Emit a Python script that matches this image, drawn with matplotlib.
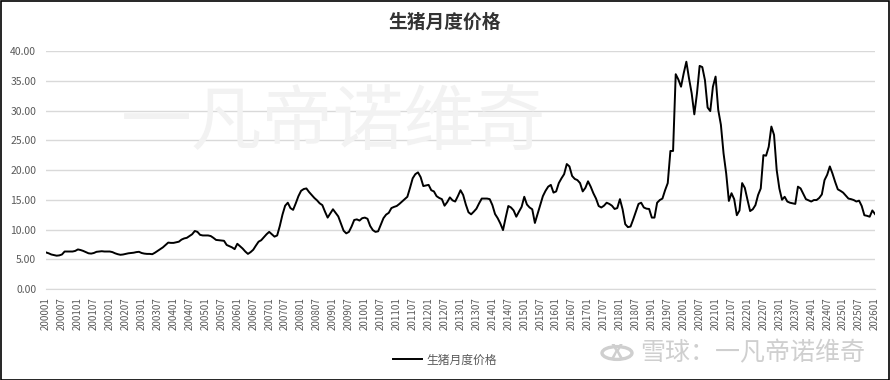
import matplotlib
matplotlib.use('Agg')
import matplotlib.pyplot as plt
from matplotlib.patches import Rectangle, Circle

plt.rcParams['font.family'] = ['Noto Sans CJK SC', 'DejaVu Sans']

# monthly pig price, 200001 .. 202601
price_2000 = [6.15, 6.0, 5.8, 5.7, 5.6, 5.65, 5.8, 6.3, 6.3, 6.3, 6.3, 6.4]
price_2001 = [6.65, 6.55, 6.4, 6.2, 6.0, 5.95, 6.05, 6.25, 6.3, 6.35, 6.3, 6.3]
price_2002 = [6.3, 6.2, 6.0, 5.85, 5.75, 5.8, 5.9, 6.0, 6.05, 6.1, 6.2, 6.25]
price_2003 = [6.05, 5.95, 5.9, 5.9, 5.85, 6.1, 6.4, 6.7, 7.0, 7.4, 7.8, 7.75]
price_2004 = [7.75, 7.85, 7.95, 8.3, 8.5, 8.6, 8.9, 9.2, 9.75, 9.6, 9.1, 9.0]
price_2005 = [9.0, 9.0, 8.9, 8.6, 8.25, 8.2, 8.15, 8.1, 7.4, 7.2, 7.0, 6.7]
price_2006 = [7.6, 7.2, 6.8, 6.3, 5.9, 6.2, 6.6, 7.3, 7.95, 8.2, 8.7, 9.2]
price_2007 = [9.6, 9.2, 8.8, 9.0, 10.6, 12.5, 14.0, 14.5, 13.6, 13.3, 14.4, 15.6]
price_2008 = [16.5, 16.8, 16.9, 16.3, 15.8, 15.3, 14.9, 14.4, 14.1, 13.0, 12.0, 12.7]
price_2009 = [13.4, 12.8, 12.2, 11.0, 9.8, 9.35, 9.6, 10.5, 11.6, 11.7, 11.5, 11.9]
price_2010 = [12.0, 11.8, 10.6, 9.9, 9.6, 9.7, 10.8, 11.9, 12.5, 12.8, 13.6, 13.8]
price_2011 = [13.95, 14.3, 14.7, 15.1, 15.5, 17.0, 18.6, 19.3, 19.6, 18.8, 17.3, 17.4]
price_2012 = [17.5, 16.6, 16.4, 15.6, 15.3, 15.1, 14.0, 14.6, 15.4, 14.9, 14.7, 15.6]
price_2013 = [16.6, 15.8, 14.2, 12.9, 12.55, 13.0, 13.5, 14.4, 15.2, 15.2, 15.2, 15.1]
price_2014 = [14.1, 12.6, 11.9, 11.0, 9.9, 12.0, 13.95, 13.7, 13.2, 12.15, 13.0, 13.8]
price_2015 = [15.5, 14.2, 13.7, 13.4, 11.1, 12.6, 14.1, 15.6, 16.5, 17.2, 17.5, 16.2]
price_2016 = [16.4, 17.8, 18.6, 19.3, 21.0, 20.6, 19.0, 18.5, 18.3, 17.8, 16.4, 17.0]
price_2017 = [18.1, 17.2, 16.1, 15.2, 13.95, 13.7, 14.0, 14.5, 14.3, 14.0, 13.45, 13.6]
price_2018 = [15.1, 13.4, 10.9, 10.4, 10.5, 11.7, 13.0, 14.3, 14.5, 13.7, 13.5, 13.45]
price_2019 = [12.0, 12.0, 14.5, 14.95, 15.2, 16.6, 17.8, 23.2, 23.2, 36.1, 35.2, 34.0]
price_2020 = [36.25, 38.2, 35.4, 32.9, 29.35, 32.9, 37.5, 37.3, 35.1, 30.5, 29.9, 34.0]
price_2021 = [35.7, 30.1, 27.6, 22.8, 19.4, 14.8, 16.1, 15.1, 12.4, 13.2, 17.8, 17.0]
price_2022 = [15.0, 13.1, 13.4, 14.1, 15.8, 16.9, 22.5, 22.4, 23.9, 27.3, 25.9, 20.0]
price_2023 = [16.9, 15.0, 15.5, 14.7, 14.5, 14.4, 14.3, 17.2, 16.9, 16.0, 15.1, 14.9]
price_2024 = [14.7, 14.95, 14.95, 15.3, 15.9, 18.3, 19.2, 20.6, 19.4, 18.0, 16.75, 16.5]
price_2025 = [16.2, 15.7, 15.2, 15.1, 14.95, 14.7, 14.85, 13.95, 12.4, 12.3, 12.15, 13.2]
price_2026 = [12.6]

prices = (price_2000 + price_2001 + price_2002 + price_2003 + price_2004 + price_2005
          + price_2006 + price_2007 + price_2008 + price_2009 + price_2010 + price_2011
          + price_2012 + price_2013 + price_2014 + price_2015 + price_2016 + price_2017
          + price_2018 + price_2019 + price_2020 + price_2021 + price_2022 + price_2023
          + price_2024 + price_2025 + price_2026)

months = []
for y in range(2000, 2027):
    for m in range(1, 13):
        months.append('%d%02d' % (y, m))
months = months[:len(prices)]

series_name = '生猪月度价格'
y_ticks = [0, 5, 10, 15, 20, 25, 30, 35, 40]

W, H = 890, 380
fig = plt.figure(figsize=(W / 100, H / 100), dpi=100)
ax = fig.add_axes([46 / W, 1 - 289 / H, (875 - 46) / W, (289 - 51) / H])

# faint watermark behind the plot
fig.text(333 / W, 1 - 123 / H, '一凡帝诺维奇', fontsize=51, color='#f2f2f2',
         ha='center', va='center', zorder=0)
ax.set_facecolor('none')

x = list(range(len(prices)))
ax.plot(x, prices, color='black', lw=1.4, label=series_name, zorder=3)

ax.set_xlim(0, len(prices) - 1)
ax.set_ylim(0, 40)
ax.set_yticks(y_ticks)
ax.set_yticklabels(['%.2f' % v for v in y_ticks])
ax.yaxis.grid(True, color='#d9d9d9', lw=1)
ax.set_axisbelow(True)

tick_pos = x[::6]
ax.set_xticks(tick_pos)
ax.set_xticklabels([months[i] for i in tick_pos], rotation=90)

ax.tick_params(axis='y', length=0, pad=7, labelsize=7.5, labelcolor='#595959')
ax.tick_params(axis='x', length=0, pad=6, labelsize=7, labelcolor='#595959')
for s in ['top', 'right', 'left']:
    ax.spines[s].set_visible(False)
ax.spines['bottom'].set_color('#d9d9d9')

fig.text(445 / W, 1 - 22 / H, series_name, fontsize=13.5, fontweight='bold',
         color='#333333', ha='center', va='center')

leg = ax.legend(loc='center', bbox_to_anchor=(445 / W, 1 - 360 / H),
                bbox_transform=fig.transFigure, frameon=False, fontsize=8.5,
                handlelength=2.4, handletextpad=0.4)
for t in leg.get_texts():
    t.set_color('#595959')

# bottom-right site mark
fig.patches.append(Circle((617 / W, 1 - 353 / H), 15 / W, transform=fig.transFigure,
                          fill=False, ec='#cfcfcf', lw=2.4))
fig.text(617 / W, 1 - 353 / H, 'X', fontsize=14, color='#cfcfcf', ha='center',
         va='center', fontweight='bold')
fig.text(640 / W, 1 - 353 / H, '雪球：一凡帝诺维奇', fontsize=18, color='#cfcfcf',
         ha='left', va='center')

fig.patches.append(Rectangle((0.5 / W, 0.5 / H), 1 - 1.5 / W, 1 - 1.5 / H,
                             transform=fig.transFigure, fill=False, ec='black', lw=1.2))

fig.savefig('out.png', dpi=100)
